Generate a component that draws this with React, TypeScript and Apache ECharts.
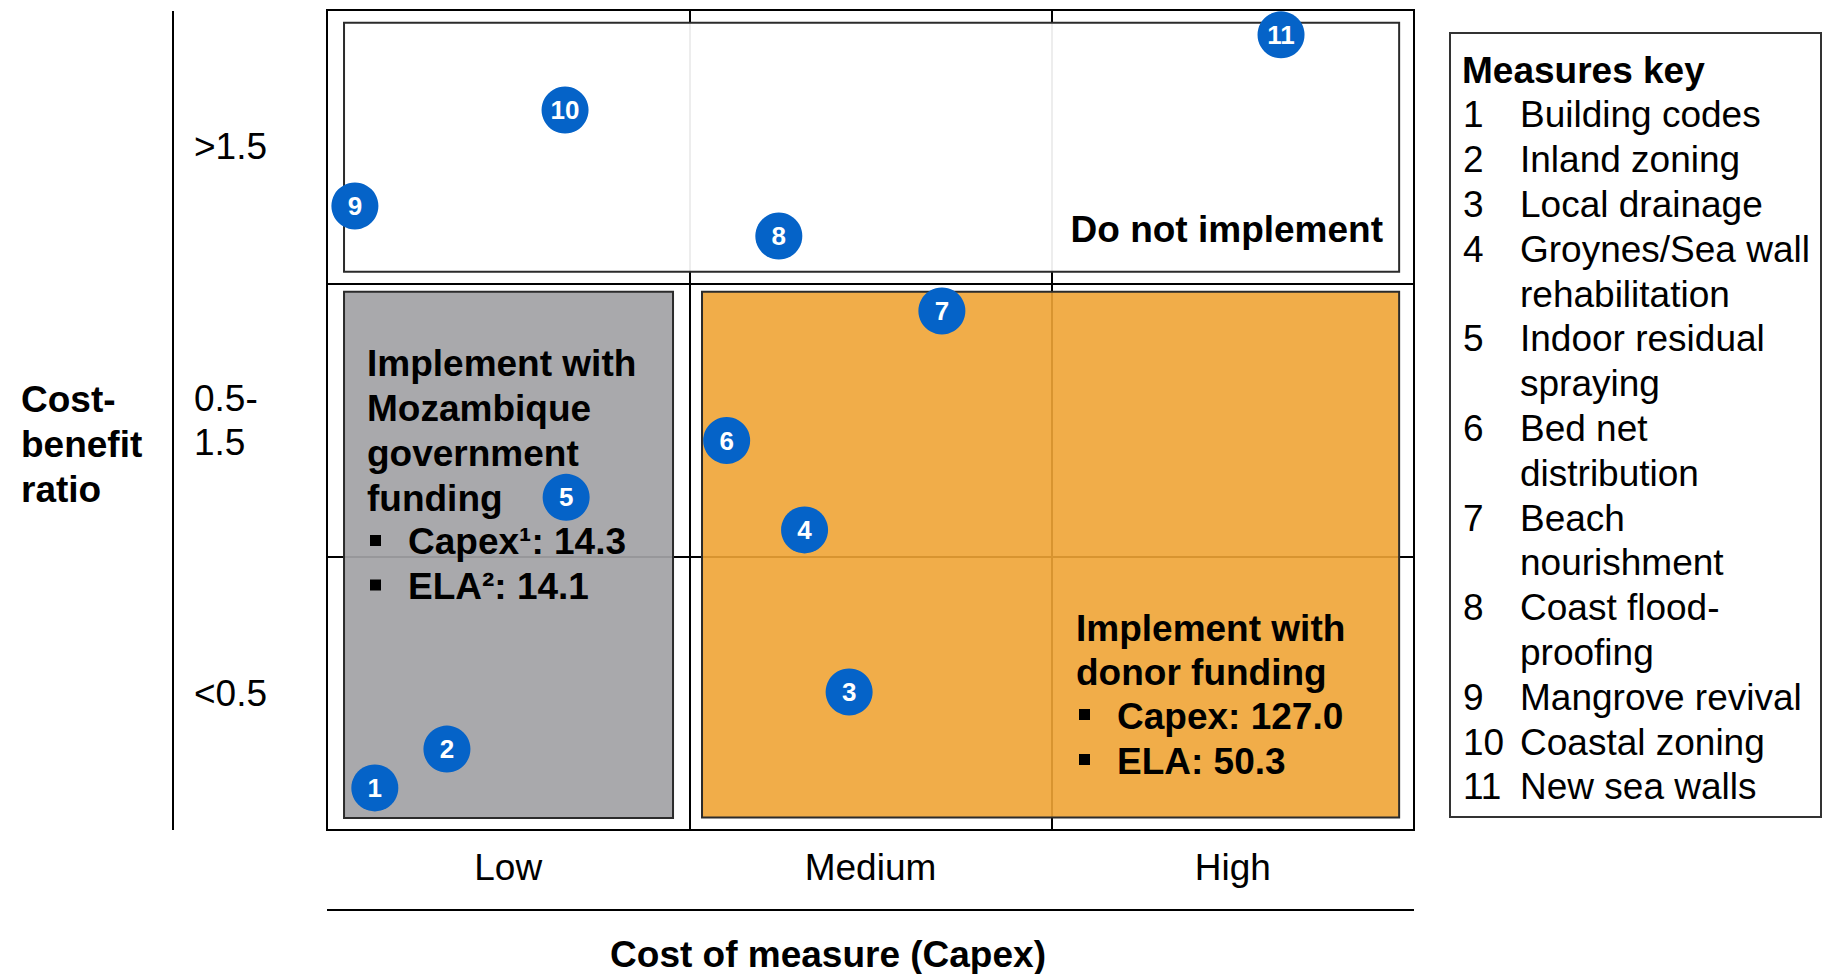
import { useEffect, useRef } from "react";
import * as echarts from "echarts";

// ---- Data ----
const costCategories = ["Low", "Medium", "High"];
const ratioCategories = ["<0.5", "0.5-\n1.5", ">1.5"];

const measureIds = [1, 2, 3, 4, 5, 6, 7, 8, 9, 10, 11];
const measureNames = [
  "Building codes",
  "Inland zoning",
  "Local drainage",
  "Groynes/Sea wall\nrehabilitation",
  "Indoor residual\nspraying",
  "Bed net\ndistribution",
  "Beach\nnourishment",
  "Coast flood-\nproofing",
  "Mangrove revival",
  "Coastal zoning",
  "New sea walls",
];
// position on the cost axis (0..3 : Low | Medium | High bands)
const measureCost = [0.132, 0.331, 1.441, 1.318, 0.66, 1.103, 1.697, 1.247, 0.077, 0.657, 2.633];
// position on the cost-benefit ratio axis (0..3 : <0.5 | 0.5-1.5 | >1.5 bands)
const measureRatio = [0.154, 0.296, 0.505, 1.098, 1.217, 1.425, 1.899, 2.173, 2.283, 2.634, 2.909];

// zones (in axis units)
const zoneCostFrom = [0.047, 0.047, 1.035];
const zoneCostTo = [2.959, 0.955, 2.959];
const zoneRatioFrom = [2.042, 0.044, 0.046];
const zoneRatioTo = [2.953, 1.969, 1.969];

const govTitle = "Implement with\nMozambique\ngovernment\nfunding";
const govBullets = ["Capex\u00B9: 14.3", "ELA\u00B2: 14.1"];
const donorTitle = "Implement with\ndonor funding";
const donorBullets = ["Capex: 127.0", "ELA: 50.3"];
const doNotText = "Do not implement";

const yTitle = "Cost-\nbenefit\nratio";
const xTitle = "Cost of measure (Capex)";
const legendTitle = "Measures key";

// ---- Styles ----
const FONT = "'Liberation Sans', Arial, Helvetica, sans-serif";
const FS = 37;
const zoneFills = ["rgba(255,255,255,0.93)", "rgba(163,163,166,0.93)", "rgba(239,164,53,0.9)"];

export default function App() {
  const ref = useRef<HTMLDivElement>(null);

  useEffect(() => {
    document.body.style.margin = "0";
    document.body.style.overflow = "hidden";
    if (!ref.current) return;
    const chart = echarts.init(ref.current, null, { renderer: "svg" });

    const txt = (
      text: string,
      x: number,
      y: number,
      opts: { bold?: boolean; align?: string; va?: string; size?: number; lh?: number; color?: string } = {}
    ) => ({
      type: "text",
      x,
      y,
      z: 100,
      silent: true,
      style: {
        text,
        fill: opts.color || "#000",
        fontFamily: FONT,
        fontSize: opts.size || FS,
        fontWeight: opts.bold ? "bold" : "normal",
        align: opts.align || "left",
        verticalAlign: opts.va || "middle",
        lineHeight: opts.lh || 45,
      },
    });
    const bullet = (x: number, y: number) => ({
      type: "rect",
      z: 100,
      silent: true,
      shape: { x, y: y - 5.5, width: 11, height: 11 },
      style: { fill: "#000" },
    });

    const graphics: any[] = [];
    // y axis title and separator line
    graphics.push(txt(yTitle, 21, 444, { bold: true }));
    graphics.push({ type: "line", z: 100, shape: { x1: 173, y1: 11, x2: 173, y2: 830 }, style: { stroke: "#000", lineWidth: 2 } });
    // x axis separator and title
    graphics.push({ type: "line", z: 100, shape: { x1: 327, y1: 910, x2: 1414, y2: 910 }, style: { stroke: "#000", lineWidth: 2 } });
    graphics.push(txt(xTitle, 828, 954, { bold: true, align: "center" }));

    // zone texts
    graphics.push(txt(doNotText, 1383, 229, { bold: true, align: "right" }));
    graphics.push(txt(govTitle, 367, 430.5, { bold: true }));
    govBullets.forEach((b, i) => {
      graphics.push(bullet(370, 540.5 + i * 44.5));
      graphics.push(txt(b, 408, 541.5 + i * 44.5, { bold: true }));
    });
    graphics.push(txt(donorTitle, 1076, 650, { bold: true, lh: 44 }));
    donorBullets.forEach((b, i) => {
      graphics.push(bullet(1079, 714.5 + i * 45));
      graphics.push(txt(b, 1117, 716.5 + i * 44.5, { bold: true }));
    });

    // legend
    graphics.push({
      type: "rect",
      z: 90,
      shape: { x: 1450, y: 33, width: 371, height: 784 },
      style: { fill: "#fff", stroke: "#333", lineWidth: 2 },
    });
    graphics.push(txt(legendTitle, 1462, 70, { bold: true }));
    const step = 44.8;
    let line = 0;
    measureIds.forEach((id, i) => {
      const yTop = 115 + line * step - step / 2;
      graphics.push(txt(String(id), 1463, yTop, { va: "top", lh: step }));
      graphics.push(txt(measureNames[i], 1520, yTop, { va: "top", lh: step }));
      line += measureNames[i].split("\n").length;
    });

    const zoneData = zoneCostFrom.map((c, i) => [c, zoneCostTo[i], zoneRatioFrom[i], zoneRatioTo[i]]);
    const pointData = measureIds.map((id, i) => [measureCost[i], measureRatio[i], id]);

    const option: any = {
      animation: false,
      backgroundColor: "#fff",
      textStyle: { fontFamily: FONT },
      grid: {
        left: 327,
        top: 10,
        width: 1087,
        height: 820,
        show: true,
        borderColor: "#000",
        borderWidth: 2,
        backgroundColor: "transparent",
      },
      xAxis: [
        {
          type: "category",
          data: costCategories,
          boundaryGap: true,
          axisLine: { show: true, lineStyle: { color: "#000", width: 2 } },
          axisTick: { show: false },
          splitLine: { show: true, interval: 0, lineStyle: { color: "#000", width: 2 } },
          axisLabel: { color: "#000", fontSize: FS, fontFamily: FONT, margin: 19, interval: 0 },
        },
        { type: "value", min: 0, max: 3, show: false },
      ],
      yAxis: [
        {
          type: "category",
          data: ratioCategories,
          boundaryGap: true,
          axisLine: { show: true, lineStyle: { color: "#000", width: 2 } },
          axisTick: { show: false },
          splitLine: { show: true, interval: 0, lineStyle: { color: "#000", width: 2 } },
          axisLabel: {
            color: "#000",
            fontSize: FS,
            fontFamily: FONT,
            align: "left",
            margin: 133,
            lineHeight: 44,
            padding: [4, 0, 0, 0],
            interval: 0,
          },
        },
        { type: "value", min: 0, max: 3, show: false },
      ],
      series: [
        {
          type: "custom",
          xAxisIndex: 1,
          yAxisIndex: 1,
          z: 1,
          silent: true,
          encode: { x: [0, 1], y: [2, 3] },
          data: zoneData,
          renderItem: (params: any, api: any) => {
            const p0 = api.coord([api.value(0), api.value(3)]);
            const p1 = api.coord([api.value(1), api.value(2)]);
            return {
              type: "rect",
              shape: { x: p0[0], y: p0[1], width: p1[0] - p0[0], height: p1[1] - p0[1] },
              style: { fill: zoneFills[params.dataIndex], stroke: "#2b2b2b", lineWidth: 2 },
            };
          },
        },
        {
          type: "scatter",
          xAxisIndex: 1,
          yAxisIndex: 1,
          z: 5,
          symbol: "circle",
          symbolSize: 47,
          itemStyle: { color: "#0563C8", opacity: 1 },
          label: {
            show: true,
            position: "inside",
            formatter: (p: any) => String(p.value[2]),
            color: "#fff",
            fontWeight: "bold",
            fontSize: 26,
            fontFamily: FONT,
          },
          data: pointData,
        },
      ],
      graphic: graphics,
    };

    chart.setOption(option);
    return () => chart.dispose();
  }, []);

  return <div ref={ref} style={{ width: 1824, height: 974 }} />;
}
